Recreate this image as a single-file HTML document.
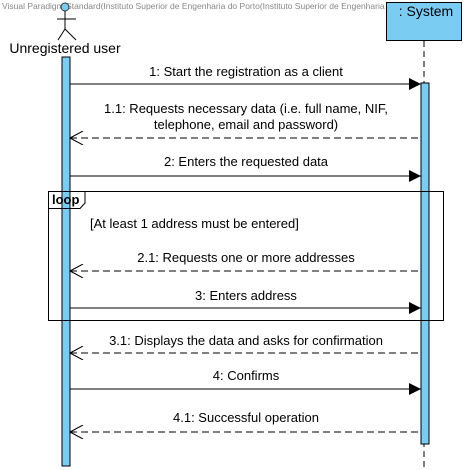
<!DOCTYPE html>
<html><head><style>
html,body{margin:0;padding:0;background:#fff;}
svg{display:block;font-family:"Liberation Sans",sans-serif;}
</style></head><body>
<svg width="468" height="470" viewBox="0 0 468 470" xmlns="http://www.w3.org/2000/svg">
<defs>
<marker id="f" markerWidth="12" markerHeight="12" refX="12" refY="6" orient="auto" markerUnits="userSpaceOnUse"><path d="M0,0 L12,6 L0,12 z" fill="#000"/></marker>
<marker id="o" markerWidth="14" markerHeight="14" refX="0" refY="7" orient="auto" markerUnits="userSpaceOnUse"><path d="M13,0 L0,7 L13,14" fill="none" stroke="#000" stroke-width="1"/></marker>
</defs>
<text x="2" y="9" font-size="8.5" fill="#888">Visual Paradigm Standard(Instituto Superior de Engenharia do Porto(Instituto Superior de Engenharia do Porto))</text>
<circle cx="65" cy="7" r="4" fill="#7ACCF2" stroke="#333" stroke-width="1"/>
<line x1="65" y1="11" x2="65" y2="29" stroke="#000"/>
<line x1="57" y1="19" x2="76" y2="19" stroke="#000"/>
<line x1="65" y1="29" x2="58" y2="40" stroke="#000"/>
<line x1="65" y1="29" x2="76" y2="40" stroke="#000"/>
<text x="65" y="53" font-size="14" text-anchor="middle">Unregistered user</text>
<rect x="62" y="57" width="8" height="409" fill="#7ACCF2" stroke="#000" stroke-width="1"/>
<rect x="386.5" y="2.5" width="75" height="38" fill="#7ACCF2" stroke="#000"/>
<text x="426" y="16" font-size="14" text-anchor="middle">: System</text>
<line x1="424" y1="41" x2="424" y2="470" stroke="#000" stroke-dasharray="6,4"/>
<rect x="421" y="83" width="8" height="361" fill="#7ACCF2" stroke="#000" stroke-width="1"/>
<rect x="48.5" y="191.5" width="395" height="129" fill="none" stroke="#000"/>
<path d="M48.5,208.5 H80 L85,203 V191.5" fill="none" stroke="#000"/>
<text x="52" y="204" font-size="13" font-weight="bold">loop</text>
<text x="90" y="228" font-size="13">[At least 1 address must be entered]</text>
<g font-size="13" text-anchor="middle">
<text x="246" y="76">1: Start the registration as a client</text>
<line x1="70" y1="84" x2="421" y2="84" stroke="#000" marker-end="url(#f)"/>
<text x="246" y="113">1.1: Requests necessary data (i.e. full name, NIF,</text>
<text x="246" y="129">telephone, email and password)</text>
<line x1="70" y1="138" x2="421" y2="138" stroke="#000" stroke-dasharray="7,4" marker-start="url(#o)"/>
<text x="246" y="166">2: Enters the requested data</text>
<line x1="70" y1="176" x2="421" y2="176" stroke="#000" marker-end="url(#f)"/>
<text x="246" y="262">2.1: Requests one or more addresses</text>
<line x1="70" y1="271" x2="421" y2="271" stroke="#000" stroke-dasharray="7,4" marker-start="url(#o)"/>
<text x="246" y="300">3: Enters address</text>
<line x1="70" y1="308" x2="421" y2="308" stroke="#000" marker-end="url(#f)"/>
<text x="246" y="345">3.1: Displays the data and asks for confirmation</text>
<line x1="70" y1="353" x2="421" y2="353" stroke="#000" stroke-dasharray="7,4" marker-start="url(#o)"/>
<text x="246" y="380">4: Confirms</text>
<line x1="70" y1="389" x2="421" y2="389" stroke="#000" marker-end="url(#f)"/>
<text x="246" y="422">4.1: Successful operation</text>
<line x1="70" y1="432" x2="421" y2="432" stroke="#000" stroke-dasharray="7,4" marker-start="url(#o)"/>
</g>
</svg>
</body></html>
